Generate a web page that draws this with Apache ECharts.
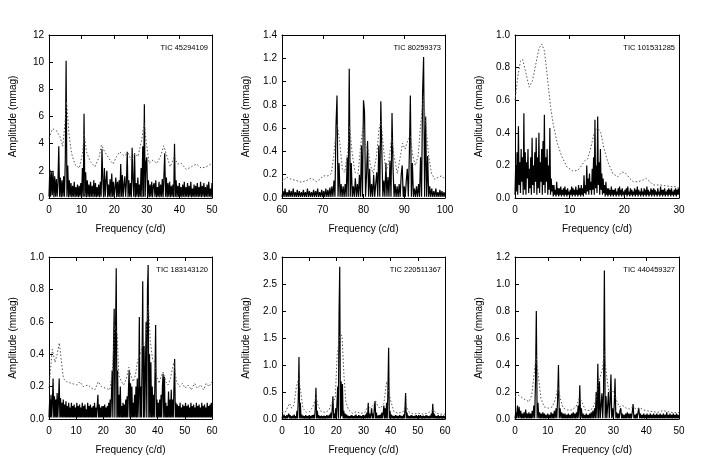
<!DOCTYPE html>
<html><head><meta charset="utf-8">
<script src="https://cdn.jsdelivr.net/npm/echarts@6/dist/echarts.min.js"></script>
<style>html,body{margin:0;padding:0;background:#fff}#c{width:706px;height:471px}</style>
</head><body><div id="c"></div>
<script>
// ---------- DATA ----------
// Panel 1
const P1_TITLE = 'TIC 45294109';
const P1_X = [0, 50, 10];      // min, max, step (c/d)
const P1_Y = [0, 12, 2];       // min, max, step (mmag)
const P1_F0 = 0, P1_DF = 0.25; // frequency grid of the spectrum
const P1_AMP = [
0.1,2.1,0.1,1.9,0.2,2.0,0.05,1.6,0.1,1.4,0.1,1.2,3.8,0.1,1.5,0.05,1.3,0.1,1.6,0.1,
2.8,10.1,0.1,2.4,0.05,1.3,0.1,1.1,0.05,0.9,0.1,1.2,0.05,0.8,0.1,1.0,0.05,0.9,0.1,1.1,
0.05,2.2,0.1,6.2,0.1,1.9,0.05,1.3,0.1,1.0,0.05,1.2,0.1,0.9,0.05,1.3,0.1,1.1,0.05,0.8,
0.1,1.0,0.05,1.2,0.1,3.6,1.4,0.05,2.2,0.1,1.3,2.0,0.05,1.0,0.1,1.4,0.05,1.8,0.1,1.2,
0.05,0.8,1.5,0.05,1.2,0.1,1.3,0.05,2.5,0.1,1.7,0.05,1.0,1.6,0.1,1.2,3.4,0.05,1.3,0.1,
1.1,0.05,3.7,1.3,0.1,3.3,0.05,1.1,0.1,1.5,0.05,1.0,0.1,2.2,0.05,3.8,0.1,6.9,0.1,2.6,
3.0,0.1,1.3,0.05,1.0,0.1,1.2,0.05,0.9,1.1,0.1,1.3,0.05,0.8,0.1,1.2,0.05,1.0,0.1,1.4,
0.05,1.6,3.3,0.1,1.5,0.05,1.1,0.1,1.2,0.05,0.9,0.1,1.0,0.05,4.0,0.1,1.3,0.05,0.9,0.1,
1.1,0.1,0.8,0.05,1.0,0.1,1.2,0.05,0.8,0.1,1.1,0.05,0.9,0.1,1.2,0.05,0.7,0.1,1.0,0.05,
0.9,0.1,1.1,0.05,0.8,0.1,1.2,0.05,0.9,0.1,1.1,0.05,0.8,0.1,1.0,0.05,1.2,0.1,0.7,0.05,
1.1];
const P1_THR_F = [0,1.1,2.3,3.4,4.2,4.9,5.4,6.1,6.9,8.0,9.3,10.3,10.8,11.5,12.6,14.1,15.4,16.1,17.1,18.7,19.7,20.7,21.7,23.0,24.3,25.3,26.3,27.3,28.4,29.2,29.9,30.7,31.9,33.0,34.2,35.2,36.2,37.2,38.4,39.4,40.6,42.1,43.7,45.2,46.7,48.3,50];
const P1_THR_A = [4.4,5.1,4.95,4.5,3.8,5.5,7.1,4.75,3.3,2.45,2.2,3.3,4.75,3.4,2.7,2.3,3.05,3.9,3.4,2.8,2.5,3.05,3.4,3.1,3.3,2.75,3.25,3.05,4.25,5.5,4.0,2.55,2.8,2.55,3.05,3.85,3.05,2.3,3.05,2.5,2.55,2.1,2.3,2.5,2.2,2.3,2.55];

// Panel 2
const P2_TITLE = 'TIC 80259373';
const P2_X = [60, 100, 10];
const P2_Y = [0, 1.4, 0.2];
const P2_F0 = 60, P2_DF = 0.25;
const P2_AMP = [
0.01,0.06,0.01,0.08,0.01,0.05,0.01,0.07,0.01,0.06,0.01,0.08,0.01,0.05,0.01,0.07,0.01,0.06,0.01,0.05,
0.01,0.07,0.01,0.05,0.01,0.08,0.01,0.06,0.01,0.05,0.01,0.07,0.01,0.06,0.01,0.08,0.01,0.05,0.01,0.07,
0.01,0.06,0.01,0.08,0.01,0.07,0.01,0.09,0.01,0.1,0.01,0.15,0.01,0.62,0.88,0.01,0.3,0.01,0.12,0.01,
0.1,0.01,0.12,0.01,0.35,0.01,1.11,0.01,0.3,0.01,0.1,0.01,0.17,0.01,0.12,0.01,0.2,0.01,0.45,0.01,
0.84,0.74,0.01,0.2,0.49,0.01,0.25,0.01,0.12,0.01,0.2,0.01,0.12,0.22,0.01,0.45,0.01,0.83,0.4,0.01,
0.15,0.01,0.3,0.01,0.18,0.01,0.32,0.01,0.73,0.25,0.01,0.12,0.01,0.1,0.01,0.12,0.01,0.2,0.28,0.01,
0.1,0.01,0.15,0.25,0.01,0.37,0.88,0.01,0.3,0.01,0.08,0.01,0.1,0.01,0.12,0.01,0.35,0.01,0.9,1.21,
0.01,0.7,0.01,0.36,0.01,0.1,0.01,0.08,0.01,0.06,0.01,0.08,0.01,0.05,0.01,0.07,0.01,0.06,0.01,0.05,
0.01];
const P2_THR_F = [60,61.1,62.3,63.5,64.75,66.0,67.2,68.4,69.3,70.1,71.3,72.1,72.7,73.2,73.6,74.2,74.8,75.4,76.1,76.6,77.2,77.9,78.7,79.3,79.9,80.5,81.1,81.7,82.4,83.2,83.8,84.3,84.8,85.5,86.2,86.9,87.5,88.3,88.9,89.6,90.2,90.9,91.5,92.1,92.7,93.4,94.0,94.7,95.3,96.0,96.7,97.5,98.4,99.2,100];
const P2_THR_A = [0.136,0.18,0.16,0.15,0.136,0.15,0.17,0.14,0.16,0.19,0.19,0.21,0.36,0.56,0.63,0.47,0.25,0.22,0.39,0.62,0.39,0.22,0.21,0.45,0.62,0.45,0.42,0.28,0.21,0.36,0.59,0.66,0.47,0.22,0.31,0.52,0.36,0.21,0.33,0.47,0.42,0.5,0.53,0.36,0.28,0.36,0.62,0.87,0.62,0.36,0.21,0.16,0.18,0.19,0.16];

// Panel 3 (finer grid: 8 samples per c/d, one row per c/d)
const P3_TITLE = 'TIC 101531285';
const P3_X = [0, 30, 10];
const P3_Y = [0, 1.0, 0.2];
const P3_F0 = 0, P3_DF = 0.125;
const P3_AMP = [
0.02,0.2,0.04,0.28,0.02,0.44,0.08,0.22,
0.03,0.3,0.1,0.25,0.02,0.52,0.05,0.28,
0.02,0.22,0.12,0.3,0.03,0.18,0.06,0.25,
0.02,0.37,0.08,0.2,0.03,0.28,0.1,0.37,
0.02,0.25,0.06,0.4,0.03,0.22,0.1,0.3,
0.02,0.35,0.08,0.51,0.03,0.25,0.1,0.3,
0.02,0.2,0.05,0.43,0.02,0.12,0.04,0.08,
0.01,0.08,0.02,0.05,0.01,0.1,0.02,0.06,
0.01,0.06,0.02,0.07,0.01,0.05,0.02,0.06,
0.01,0.07,0.02,0.05,0.01,0.06,0.02,0.04,
0.01,0.05,0.02,0.07,0.01,0.06,0.02,0.05,
0.01,0.07,0.02,0.05,0.01,0.08,0.02,0.06,
0.01,0.08,0.02,0.06,0.01,0.14,0.03,0.08,
0.02,0.2,0.04,0.12,0.02,0.15,0.05,0.1,
0.02,0.18,0.05,0.25,0.02,0.48,0.06,0.2,
0.03,0.5,0.08,0.22,0.02,0.3,0.05,0.15,
0.02,0.12,0.03,0.08,0.01,0.1,0.02,0.06,
0.01,0.06,0.02,0.05,0.01,0.07,0.02,0.05,
0.01,0.05,0.02,0.06,0.01,0.04,0.02,0.06,
0.01,0.07,0.02,0.05,0.01,0.06,0.02,0.04,
0.01,0.05,0.02,0.06,0.01,0.07,0.02,0.04,
0.01,0.06,0.02,0.05,0.01,0.04,0.02,0.06,
0.01,0.05,0.02,0.07,0.01,0.05,0.02,0.04,
0.01,0.06,0.02,0.04,0.01,0.06,0.02,0.05,
0.01,0.07,0.02,0.05,0.01,0.04,0.02,0.06,
0.01,0.05,0.02,0.06,0.01,0.05,0.02,0.04,
0.01,0.06,0.02,0.04,0.01,0.07,0.02,0.05,
0.01,0.05,0.02,0.06,0.01,0.04,0.02,0.05,
0.01,0.06,0.02,0.05,0.01,0.06,0.02,0.04,
0.01,0.05,0.02,0.06,0.01,0.05,0.02,0.06,
0.02];
const P3_THR_F = [0,0.5,1.0,1.4,1.9,2.6,3.2,3.8,4.4,4.9,5.4,5.9,6.5,7.0,7.7,8.5,9.5,10.6,11.5,12.2,12.8,13.3,13.8,14.5,15.1,15.7,16.3,17.0,17.9,18.8,19.6,20.3,21.0,21.6,22.5,23.4,24.0,24.7,25.3,26.5,27.5,28.5,29.3,30];
const P3_THR_A = [0.6,0.74,0.84,0.85,0.78,0.68,0.72,0.82,0.92,0.945,0.9,0.75,0.56,0.45,0.34,0.26,0.19,0.165,0.17,0.2,0.23,0.24,0.3,0.4,0.43,0.4,0.3,0.22,0.15,0.13,0.16,0.15,0.12,0.1,0.1,0.11,0.12,0.1,0.08,0.08,0.075,0.07,0.07,0.06];

// Panel 4
const P4_TITLE = 'TIC 183143120';
const P4_X = [0, 60, 10];
const P4_Y = [0, 1.0, 0.2];
const P4_F0 = 0, P4_DF = 0.25;
const P4_AMP = [
0.01,0.12,0.01,0.15,0.01,0.1,0.25,0.01,0.14,0.01,0.12,0.01,0.16,0.01,0.11,0.25,0.01,0.13,0.01,0.1,
0.01,0.12,0.01,0.09,0.01,0.11,0.01,0.08,0.01,0.1,0.01,0.07,0.01,0.1,0.01,0.08,0.01,0.09,0.01,0.07,
0.01,0.1,0.01,0.08,0.01,0.09,0.01,0.07,0.01,0.1,0.01,0.08,0.01,0.09,0.01,0.06,0.01,0.1,0.01,0.08,
0.01,0.09,0.01,0.07,0.01,0.08,0.01,0.1,0.01,0.07,0.01,0.08,0.15,0.01,0.09,0.01,0.07,0.01,0.08,0.01,
0.08,0.01,0.09,0.01,0.07,0.01,0.08,0.01,0.1,0.01,0.12,0.01,0.15,0.3,0.01,0.45,0.68,0.01,0.55,0.93,
0.01,0.3,0.01,0.15,0.01,0.2,0.01,0.08,0.01,0.1,0.01,0.09,0.01,0.12,0.01,0.14,0.01,0.18,0.3,0.01,
0.22,0.01,0.2,0.01,0.1,0.01,0.15,0.01,0.2,0.01,0.25,0.01,0.15,0.63,0.01,0.2,0.01,0.35,0.85,0.01,
0.45,0.01,0.3,0.6,0.01,0.8,0.95,0.01,0.4,0.01,0.35,0.01,0.2,0.01,0.15,0.01,0.25,0.58,0.01,0.12,
0.01,0.1,0.01,0.12,0.01,0.15,0.01,0.2,0.28,0.01,0.26,0.01,0.1,0.01,0.08,0.01,0.17,0.01,0.12,0.01,
0.18,0.01,0.12,0.01,0.2,0.37,0.01,0.1,0.01,0.09,0.01,0.08,0.01,0.1,0.01,0.07,0.01,0.09,0.01,0.08,
0.01,0.1,0.01,0.08,0.01,0.09,0.01,0.07,0.01,0.1,0.01,0.08,0.01,0.09,0.01,0.07,0.01,0.1,0.01,0.08,
0.01,0.09,0.01,0.07,0.01,0.1,0.01,0.08,0.01,0.09,0.01,0.07,0.01,0.1,0.01,0.08,0.01,0.09,0.01,0.1,
0.01];
const P4_THR_F = [0,1.2,2.2,3.0,3.8,5.3,6.5,8.3,10.2,11.4,12.6,14.4,15.7,16.9,18.1,19.3,20.9,22.4,23.4,24.2,25.1,25.7,26.7,27.5,28.5,29.4,30.1,31.0,31.8,32.6,33.2,33.8,34.6,35.4,36.0,36.6,37.3,38.1,38.9,39.5,40.5,41.4,42.0,43.0,43.8,44.7,45.4,46.0,46.9,48.1,49.1,50.1,51.2,52.4,53.6,54.6,55.8,56.9,57.9,58.9,60];
const P4_THR_A = [0.19,0.43,0.35,0.4,0.47,0.25,0.23,0.22,0.21,0.23,0.2,0.21,0.19,0.18,0.23,0.2,0.19,0.18,0.31,0.58,0.52,0.27,0.23,0.21,0.25,0.32,0.27,0.23,0.27,0.36,0.37,0.41,0.47,0.46,0.58,0.7,0.48,0.37,0.35,0.27,0.22,0.27,0.29,0.23,0.21,0.25,0.31,0.35,0.23,0.2,0.22,0.19,0.21,0.18,0.22,0.19,0.21,0.18,0.22,0.2,0.23];

// Panel 5
const P5_TITLE = 'TIC 220511367';
const P5_X = [0, 60, 10];
const P5_Y = [0, 3.0, 0.5];
const P5_F0 = 0, P5_DF = 0.25;
const P5_AMP = [
0.01,0.06,0.01,0.08,0.01,0.05,0.01,0.07,0.01,0.06,0.1,0.01,0.07,0.01,0.05,0.01,0.06,0.01,0.08,0.01,
0.05,0.01,0.15,0.01,0.4,1.15,0.01,0.3,0.01,0.08,0.01,0.06,0.01,0.05,0.01,0.07,0.01,0.05,0.01,0.06,
0.01,0.05,0.01,0.06,0.01,0.07,0.01,0.08,0.01,0.2,0.58,0.01,0.15,0.01,0.07,0.01,0.05,0.01,0.06,0.01,
0.05,0.01,0.06,0.01,0.05,0.01,0.07,0.01,0.06,0.01,0.08,0.01,0.12,0.01,0.2,0.42,0.01,0.1,0.01,0.2,
0.01,0.3,0.6,0.01,1.95,2.82,0.01,0.7,0.05,0.65,0.01,0.15,0.01,0.1,0.01,0.08,0.01,0.06,0.01,0.05,
0.01,0.06,0.01,0.07,0.01,0.05,0.01,0.06,0.01,0.08,0.01,0.05,0.01,0.07,0.01,0.06,0.01,0.05,0.01,0.07,
0.01,0.06,0.01,0.08,0.01,0.12,0.01,0.3,0.01,0.1,0.01,0.08,0.2,0.01,0.1,0.01,0.22,0.33,0.01,0.12,
0.01,0.06,0.01,0.07,0.01,0.08,0.01,0.12,0.01,0.1,0.25,0.01,0.2,0.01,0.3,0.01,0.55,1.32,0.01,0.15,
0.01,0.08,0.01,0.06,0.01,0.05,0.01,0.07,0.01,0.06,0.01,0.05,0.01,0.07,0.01,0.06,0.01,0.05,0.01,0.08,
0.01,0.15,0.48,0.01,0.12,0.01,0.06,0.01,0.05,0.01,0.07,0.01,0.06,0.01,0.05,0.01,0.06,0.01,0.07,0.01,
0.05,0.01,0.06,0.01,0.07,0.01,0.05,0.01,0.06,0.01,0.05,0.01,0.07,0.01,0.06,0.01,0.05,0.01,0.06,0.01,
0.1,0.01,0.28,0.01,0.1,0.01,0.06,0.01,0.05,0.01,0.07,0.01,0.05,0.01,0.06,0.01,0.05,0.01,0.06,0.01,
0.05];
const P5_THR_F = [0,1.2,2.2,2.8,3.6,4.4,5.3,6.15,6.9,7.7,9.0,10.2,11.4,12.5,13.4,14.5,16.1,17.3,18.2,18.8,19.6,20.3,21.3,22.1,22.8,23.5,24.5,26.0,27.4,28.9,30.5,31.7,32.6,33.6,34.4,35.3,36.3,37.5,38.5,39.2,40.1,41.2,42.8,44.6,45.6,46.7,48.3,50.2,52.0,53.9,55.6,57.0,58.4,60];
const P5_THR_A = [0.135,0.123,0.23,0.29,0.2,0.26,0.6,0.75,0.5,0.2,0.123,0.135,0.23,0.41,0.23,0.135,0.123,0.166,0.29,0.32,0.38,1.18,1.55,1.55,0.81,0.32,0.166,0.105,0.135,0.105,0.117,0.25,0.2,0.26,0.34,0.23,0.2,0.29,0.69,0.69,0.32,0.135,0.105,0.135,0.25,0.135,0.09,0.105,0.09,0.117,0.166,0.105,0.09,0.09];

// Panel 6
const P6_TITLE = 'TIC 440459327';
const P6_X = [0, 50, 10];
const P6_Y = [0, 1.2, 0.2];
const P6_F0 = 0, P6_DF = 0.25;
const P6_AMP = [
0.005,0.05,0.005,0.1,0.005,0.09,0.005,0.06,0.005,0.04,0.005,0.05,0.005,0.07,0.005,0.04,0.005,0.05,0.005,0.04,
0.005,0.06,0.005,0.1,0.005,0.28,0.8,0.005,0.12,0.005,0.05,0.005,0.04,0.005,0.05,0.005,0.04,0.005,0.03,0.005,
0.04,0.005,0.03,0.005,0.05,0.005,0.04,0.005,0.06,0.005,0.08,0.005,0.15,0.4,0.005,0.08,0.005,0.05,0.005,0.04,
0.005,0.04,0.005,0.03,0.005,0.04,0.005,0.03,0.005,0.04,0.005,0.05,0.005,0.04,0.005,0.05,0.005,0.1,0.005,0.25,
0.005,0.08,0.005,0.04,0.005,0.03,0.005,0.04,0.005,0.03,0.005,0.04,0.005,0.05,0.005,0.06,0.005,0.08,0.005,0.2,
0.005,0.41,0.005,0.28,0.005,0.1,0.19,0.005,0.2,1.1,0.005,0.17,0.005,0.1,0.2,0.005,0.12,0.33,0.005,0.08,
0.005,0.1,0.3,0.005,0.05,0.005,0.04,0.005,0.06,0.08,0.005,0.04,0.005,0.03,0.005,0.04,0.005,0.05,0.005,0.04,
0.005,0.04,0.005,0.05,0.11,0.005,0.03,0.005,0.04,0.005,0.05,0.08,0.005,0.04,0.005,0.03,0.005,0.04,0.005,0.03,
0.005,0.04,0.005,0.03,0.005,0.04,0.005,0.03,0.005,0.04,0.005,0.03,0.005,0.04,0.005,0.03,0.005,0.04,0.005,0.03,
0.005,0.04,0.005,0.03,0.005,0.05,0.005,0.03,0.005,0.04,0.005,0.03,0.005,0.04,0.005,0.03,0.005,0.04,0.005,0.03,
0.005];
const P6_THR_F = [0,1.0,2.2,3.3,4.3,5.1,5.8,6.4,7.1,7.9,8.9,10.2,11.4,12.4,13.1,13.8,14.7,16.0,17.3,18.6,19.6,20.4,21.4,22.7,23.7,24.7,25.4,26.0,26.7,27.2,27.9,28.6,29.4,30.2,31.0,31.8,32.9,33.9,34.9,35.9,36.9,38.0,39.2,40.5,42.0,43.6,45.1,46.6,48.2,50];
const P6_THR_A = [0.165,0.177,0.158,0.14,0.128,0.177,0.325,0.47,0.325,0.153,0.09,0.08,0.09,0.153,0.24,0.153,0.08,0.067,0.067,0.09,0.153,0.128,0.067,0.062,0.08,0.14,0.264,0.276,0.375,0.5,0.325,0.2,0.207,0.2,0.135,0.09,0.1,0.08,0.074,0.09,0.074,0.084,0.067,0.06,0.054,0.05,0.062,0.054,0.047,0.047];

const X_NAME = 'Frequency (c/d)';
const Y_NAME = 'Amplitude (mmag)';

// ---------- BUILD ----------
const panels = [
  {title:P1_TITLE, x:P1_X, y:P1_Y, f0:P1_F0, df:P1_DF, amp:P1_AMP, tf:P1_THR_F, ta:P1_THR_A, dec:0},
  {title:P2_TITLE, x:P2_X, y:P2_Y, f0:P2_F0, df:P2_DF, amp:P2_AMP, tf:P2_THR_F, ta:P2_THR_A, dec:1},
  {title:P3_TITLE, x:P3_X, y:P3_Y, f0:P3_F0, df:P3_DF, amp:P3_AMP, tf:P3_THR_F, ta:P3_THR_A, dec:1},
  {title:P4_TITLE, x:P4_X, y:P4_Y, f0:P4_F0, df:P4_DF, amp:P4_AMP, tf:P4_THR_F, ta:P4_THR_A, dec:1},
  {title:P5_TITLE, x:P5_X, y:P5_Y, f0:P5_F0, df:P5_DF, amp:P5_AMP, tf:P5_THR_F, ta:P5_THR_A, dec:1},
  {title:P6_TITLE, x:P6_X, y:P6_Y, f0:P6_F0, df:P6_DF, amp:P6_AMP, tf:P6_THR_F, ta:P6_THR_A, dec:1}
];
const layout = [
  {left:49, top:35, width:163, height:163},
  {left:282, top:35, width:163, height:163},
  {left:515, top:35, width:164, height:163},
  {left:49, top:257, width:163, height:162},
  {left:282, top:257, width:163, height:162},
  {left:515, top:257, width:164, height:162}
];
const FONT = "'Liberation Sans', Arial, Helvetica, sans-serif";
const W = 706;

const grid = [], xAxis = [], yAxis = [], series = [], title = [];
panels.forEach((p, i) => {
  const L = layout[i];
  grid.push({left:L.left, top:L.top, width:L.width, height:L.height, containLabel:false});
  const lineStyle = {color:'#000', width:1};
  const tick = {show:true, inside:true, length:4, lineStyle:{color:'#000', width:1}};
  xAxis.push({
    type:'value', gridIndex:i, min:p.x[0], max:p.x[1], interval:p.x[2], position:'bottom',
    axisLine:{show:true, onZero:false, lineStyle}, axisTick:tick, splitLine:{show:false},
    axisLabel:{color:'#000', fontSize:10, fontFamily:FONT, margin:7},
    name:X_NAME, nameLocation:'middle', nameGap:26,
    nameTextStyle:{color:'#000', fontSize:10, fontFamily:FONT}
  });
  xAxis.push({
    type:'value', gridIndex:i, min:p.x[0], max:p.x[1], interval:p.x[2], position:'top',
    axisLine:{show:true, onZero:false, lineStyle}, axisTick:tick, splitLine:{show:false},
    axisLabel:{show:false}
  });
  const fmt = v => p.dec ? v.toFixed(p.dec) : String(Math.round(v));
  yAxis.push({
    type:'value', gridIndex:i, min:p.y[0], max:p.y[1], interval:p.y[2], position:'left',
    axisLine:{show:true, onZero:false, lineStyle}, axisTick:tick, splitLine:{show:false},
    axisLabel:{color:'#000', fontSize:10, fontFamily:FONT, margin:5, formatter:fmt},
    name:Y_NAME, nameLocation:'middle', nameGap:31, nameRotate:90,
    nameTextStyle:{color:'#000', fontSize:10, fontFamily:FONT}
  });
  yAxis.push({
    type:'value', gridIndex:i, min:p.y[0], max:p.y[1], interval:p.y[2], position:'right',
    axisLine:{show:true, onZero:false, lineStyle}, axisTick:{show:false}, splitLine:{show:false},
    axisLabel:{show:false}
  });
  series.push({
    type:'line', xAxisIndex:2*i, yAxisIndex:2*i, showSymbol:false, symbol:'none',
    data:p.amp.map((a, k) => [p.f0 + k * p.df, a]),
    lineStyle:{color:'#000', width:1.2}, silent:true, animation:false
  });
  series.push({
    type:'line', xAxisIndex:2*i, yAxisIndex:2*i, showSymbol:false, symbol:'none',
    data:p.tf.map((f, k) => [f, p.ta[k]]),
    lineStyle:{color:'#555', width:1, type:[1.5, 2]}, silent:true, animation:false
  });
  title.push({
    text:p.title, right: W - (L.left + L.width) + 4, top: L.top + 9, padding:0,
    textStyle:{color:'#000', fontSize:7.5, fontWeight:'normal', fontFamily:FONT}
  });
});

const chart = echarts.init(document.getElementById('c'), null, {renderer:'canvas'});
chart.setOption({backgroundColor:'#fff', animation:false, title, grid, xAxis, yAxis, series});
</script>
</body></html>
